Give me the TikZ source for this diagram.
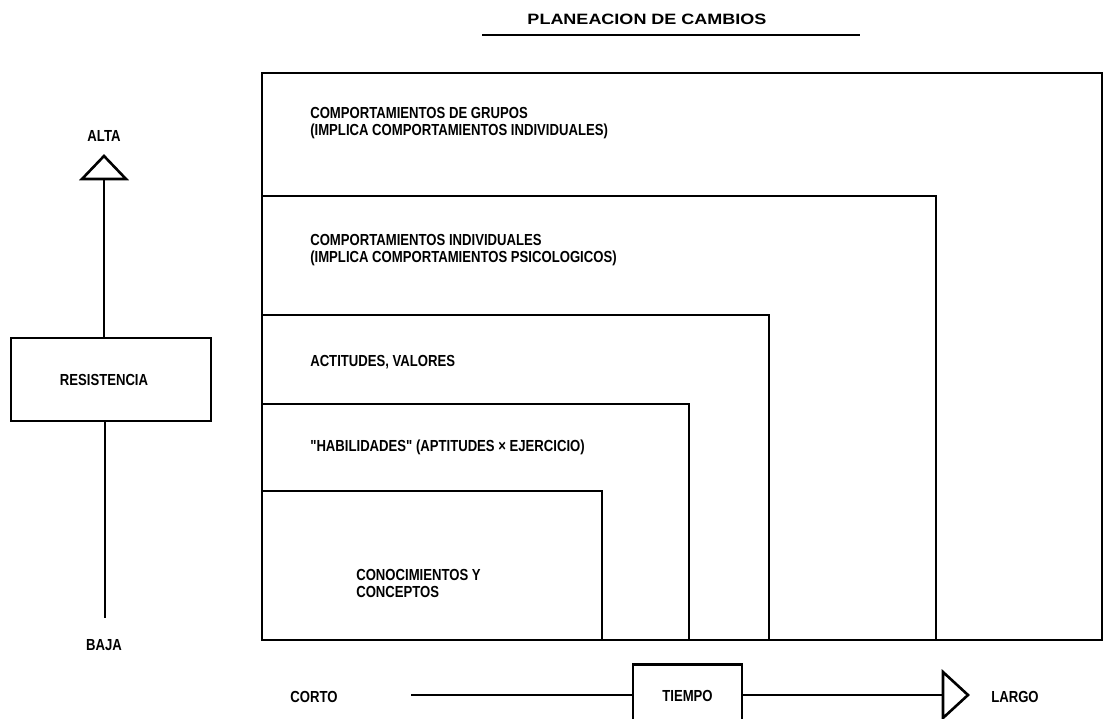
\documentclass[tikz,border=0pt]{standalone}
\usepackage{fontspec}
\usetikzlibrary{calc}
\setmainfont{Liberation Sans}
\newfontfamily\lblfont[FakeStretch=0.82]{Liberation Sans}
\newfontfamily\ttlfont[FakeStretch=1.2]{Liberation Sans}
\begin{document}
\begin{tikzpicture}[x=1pt,y=-1pt,
  line width=2.6pt,
  lbl/.style={inner sep=0pt,align=left,font=\lblfont\bfseries\fontsize{16}{17}\selectfont},
  boxnode/.style={draw,line width=2.6pt,inner sep=0pt,font=\lblfont\bfseries\fontsize{16}{17}\selectfont},
  head/.style={draw,line width=2.6pt,fill=white,line join=miter}]
\clip (0,0) rectangle (1104,719);
\fill[white] (0,0) rectangle (1104,719);

% title with rule
\node[inner sep=0pt,font=\ttlfont\bfseries\fontsize{15}{16}\selectfont] (title) at (647,19) {PLANEACION DE CAMBIOS};
\coordinate (rl) at (482,35);
\coordinate (rr) at (860,35);
\draw[line width=2.3pt] (rl) -- (rr);

% nested levels, all sharing the left and bottom edges
\draw (262,73)  rectangle (1102,640);
\draw (262,196) rectangle (936,640);
\draw (262,315) rectangle (769,640);
\draw (262,404) rectangle (689,640);
\draw (262,491) rectangle (602,640);

\node[lbl,anchor=west] (grp) at (309,123) {COMPORTAMIENTOS DE GRUPOS\\(IMPLICA COMPORTAMIENTOS INDIVIDUALES)};
\node[lbl,anchor=west] (ind) at (309,250) {COMPORTAMIENTOS INDIVIDUALES\\(IMPLICA COMPORTAMIENTOS PSICOLOGICOS)};
\node[lbl,anchor=west] (act) at (309,362) {ACTITUDES, VALORES};
\node[lbl,anchor=west] (hab) at (309,447) {"HABILIDADES" (APTITUDES × EJERCICIO)};
\node[lbl,anchor=west] (con) at (355,583) {CONOCIMIENTOS Y\\CONCEPTOS};

% resistance scale
\node[lbl] (alta) at (104,136) {ALTA};
\node[lbl] (baja) at (104,645) {BAJA};
\node[boxnode,minimum width=200pt,minimum height=83pt] (res) at (111,379.5) {RESISTENCIA\hspace*{14pt}};
\coordinate (atip) at (104,156);
\coordinate (abase) at (104,179);
\coordinate (bend) at (105,618);
\draw (res.north -| abase) -- (abase);
\draw (res.south -| bend) -- (bend);
\draw[head] (atip) -- ($(abase)+(-22,0)$) -- ($(abase)+(22,0)$) -- cycle;

% time scale
\node[lbl] (corto) at (314,697) {CORTO};
\node[lbl,anchor=west] (largo) at (990,697) {LARGO};
\node[boxnode,minimum width=109pt,minimum height=80pt,anchor=north] (tiempo) at (687.5,663) {};
\node[lbl] (tlab) at (687.5,696) {TIEMPO};
\coordinate (cstart) at (411,695);
\coordinate (tbase) at (943,695);
\coordinate (ttip) at (968,695);
\draw (cstart) -- (tiempo.west |- cstart);
\draw (tiempo.east |- cstart) -- (tbase);
\draw[head] (ttip) -- ($(tbase)+(0,-23)$) -- ($(tbase)+(0,23)$) -- cycle;
\end{tikzpicture}
\end{document}
